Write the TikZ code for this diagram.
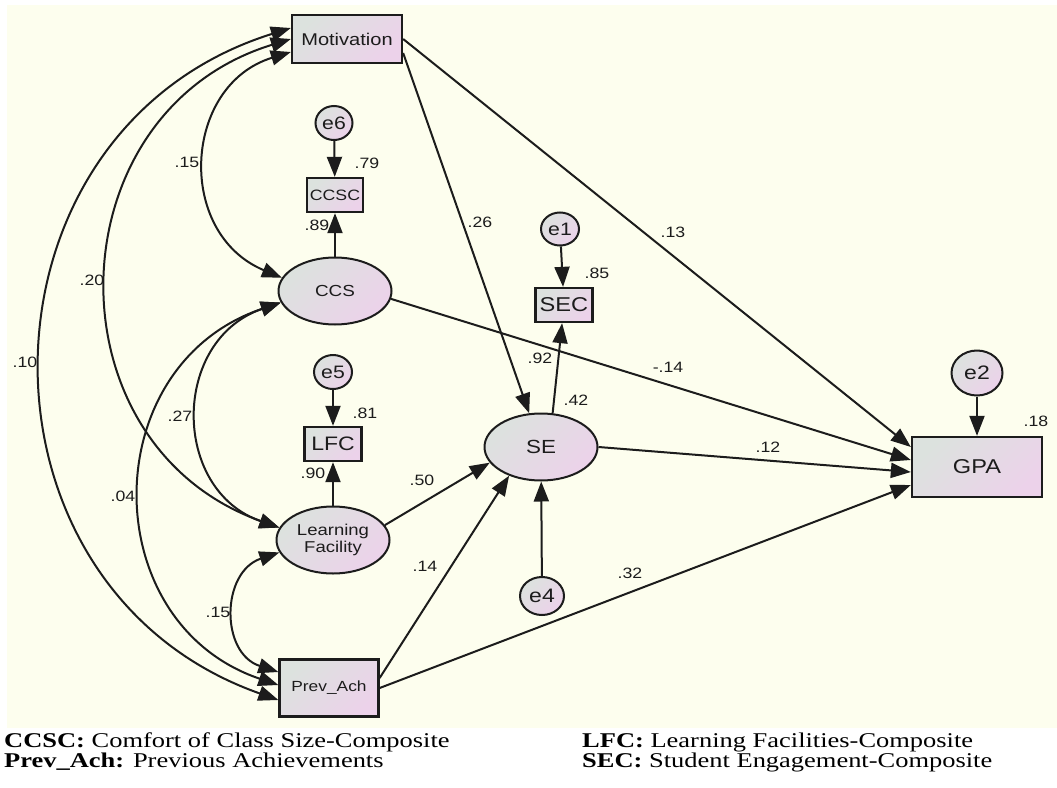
\documentclass[tikz,border=0pt]{standalone}
\usepackage{fontspec}
\setmainfont{Liberation Sans}[FakeStretch=1.18]
\newfontfamily\legendfont{Liberation Serif}[FakeStretch=1.26]
\usetikzlibrary{arrows.meta,shapes.geometric}

\definecolor{paper}{HTML}{FDFEEE}
\definecolor{boxgray}{HTML}{DCE2DE}
\definecolor{boxpink}{HTML}{ECD2EA}
\definecolor{ink}{HTML}{1C1C1C}

\tikzset{
  fsz/.style={font=\fontsize{#1}{#1}\selectfont},
  shaded/.style={draw=ink, left color=boxgray, right color=boxpink, shading angle=45,
                 text=ink, inner sep=0pt},
  obs/.style 2 args={shaded, rectangle, line width=2.3pt, minimum width=#1, minimum height=#2},
  lat/.style 2 args={shaded, ellipse, line width=2pt, minimum width=#1, minimum height=#2},
  err/.style 2 args={shaded, ellipse, line width=2pt, minimum width=#1, minimum height=#2, fsz=18},
  coef/.style={fsz=15, text=ink, inner sep=0pt},
  legend/.style={anchor=base west, inner sep=0pt, text=black,
                 font=\legendfont\fontsize{21}{21}\selectfont},
  >={Triangle[length=20pt,width=15pt]},
  path/.style={draw=ink, line width=2pt, ->},
  cov/.style={draw=ink, line width=2pt, <->},
}

\begin{document}
\begin{tikzpicture}[x=1pt, y=-1pt]
  \useasboundingbox (0,0) rectangle (1057,787);
  \fill[white] (0,0) rectangle (1057,787);
  \fill[paper] (7,5) rectangle (1057,728);

  % observed variables
  \node[obs={110pt}{48pt}, fsz=17] (mot) at (347,39) {Motivation};
  \node[obs={56pt}{34pt}, fsz=15] (ccsc) at (335,195) {CCSC};
  \node[obs={57pt}{34pt}, fsz=19.5] (lfc) at (333,444) {LFC};
  \node[obs={99pt}{57pt}, fsz=14.7] (prev) at (329,688) {Prev\_Ach};
  \node[obs={57pt}{34pt}, fsz=20] (sec) at (564,305) {SEC};
  \node[obs={130pt}{60pt}, fsz=20] (gpa) at (977,467) {GPA};

  % latent variables
  \node[lat={113pt}{67pt}, fsz=16] (ccs) at (335,291) {CCS};
  \node[lat={113pt}{67pt}, font=\fontsize{15.7}{17}\selectfont, align=center] (lf) at (333,540) {Learning\\Facility};
  \node[lat={113pt}{67pt}, fsz=19] (se) at (541,447) {SE};

  % error terms
  \node[err={37pt}{34pt}] (e6) at (334,123) {e6};
  \node[err={38pt}{34pt}] (e5) at (333,372) {e5};
  \node[err={38pt}{33pt}] (e1) at (560,229) {e1};
  \node[err={44pt}{38pt}, fsz=19.5] (e4) at (542,596) {e4};
  \node[err={51pt}{45pt}, fsz=19.5] (e2) at (977,373) {e2};

  % measurement paths
  \draw[path] (e6) -- (ccsc);
  \draw[path] (ccs) -- (ccsc);
  \draw[path] (e5) -- (lfc);
  \draw[path] (lf) -- (lfc);
  \draw[path] (e1) -- (sec);
  \draw[path] (se.71) -- (sec);
  \draw[path] (e4) -- (se);
  \draw[path] (e2) -- (gpa);

  % structural paths
  \draw[path] ([yshift=-14pt]mot.east) -- (se);
  \draw[path] (mot.east) -- ([yshift=20pt]gpa.west);
  \draw[path] (ccs.-8) -- ([yshift=7pt]gpa.west);
  \draw[path] (se.east) -- ([yshift=-5pt]gpa.west);
  \draw[path] (prev.east) -- ([yshift=-18pt]gpa.west);
  \draw[path] ([yshift=10pt]prev.east) -- (se.222);
  \draw[path] (lf.16) -- (se.197);

  % covariances among exogenous variables
  \draw[cov] ([yshift=11pt]mot.west) .. controls (-35,130) and (-42,587) .. ([yshift=-12pt]prev.west);
  \draw[cov] (mot.west) .. controls (53,112) and (45,444) .. (lf.167);
  \draw[cov] ([yshift=-13pt]mot.west) .. controls (183,85) and (175,233) .. (ccs.166);
  \draw[cov] (ccs.192) .. controls (171,340) and (171,490) .. (lf.167);
  \draw[cov] (ccs.192) .. controls (95,365) and (95,623) .. ([yshift=3pt]prev.west);
  \draw[cov] (lf.193) .. controls (221,572) and (220,653) .. ([yshift=16pt]prev.west);

  % standardized estimates
  \node[coef] (c1) at (187,162) {.15};
  \node[coef] (c2) at (367,163) {.79};
  \node[coef] (c3) at (317,225) {.89};
  \node[coef] (c4) at (92,280) {.20};
  \node[coef] (c5) at (25,362) {.10};
  \node[coef] (c6) at (180,416) {.27};
  \node[coef] (c7) at (123,496) {.04};
  \node[coef] (c8) at (365,413) {.81};
  \node[coef] (c9) at (313,473) {.90};
  \node[coef] (c10) at (422,480) {.50};
  \node[coef] (c11) at (425,566) {.14};
  \node[coef] (c12) at (218,612) {.15};
  \node[coef] (c13) at (480,222) {.26};
  \node[coef] (c14) at (673,232) {.13};
  \node[coef] (c15) at (597,273) {.85};
  \node[coef] (c16) at (540,358) {.92};
  \node[coef] (c17) at (668,367) {-.14};
  \node[coef] (c18) at (576,400) {.42};
  \node[coef] (c19) at (768,447) {.12};
  \node[coef] (c20) at (630,573) {.32};
  \node[coef] (c21) at (1036,421) {.18};

  % legend
  \node[legend] (k1) at (4,747.5) {\textbf{CCSC:} Comfort of Class Size-Composite};
  \node[legend] (k2) at (4,767.5) {\textbf{Prev\_Ach:} Previous Achievements};
  \node[legend] (k3) at (582,747.5) {\textbf{LFC:} Learning Facilities-Composite};
  \node[legend] (k4) at (582,767.5) {\textbf{SEC:} Student Engagement-Composite};
\end{tikzpicture}
\end{document}
